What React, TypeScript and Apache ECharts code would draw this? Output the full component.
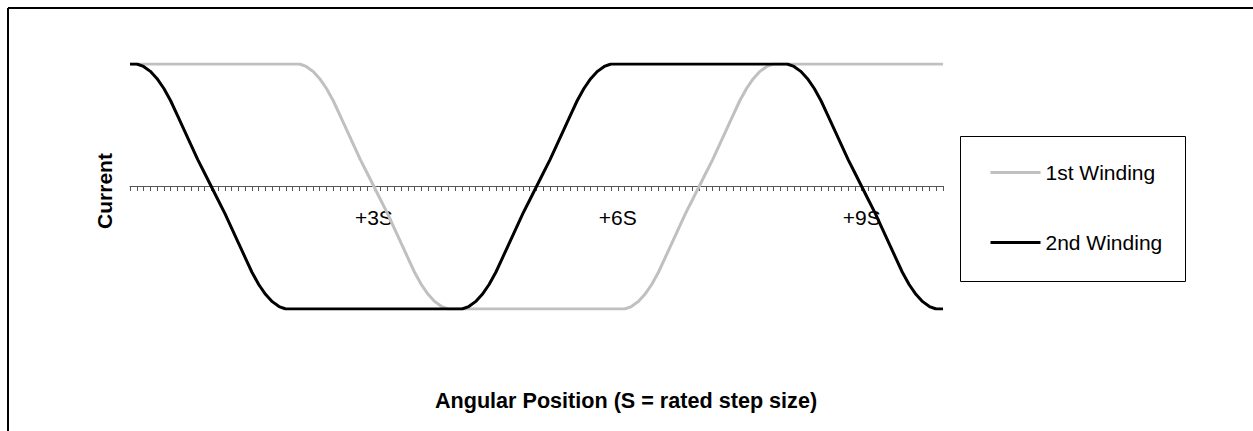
import React, { useEffect, useRef } from "react";
import * as echarts from "echarts";

// 121 positions along the angular axis, 12 per rated step S (0 .. 10S)
const positions: string[] = [
  "0","1","2","3","4","5","6","7","8","9","10","11",
  "12","13","14","15","16","17","18","19","20","21","22","23",
  "24","25","26","27","28","29","30","31","32","33","34","35",
  "36","37","38","39","40","41","42","43","44","45","46","47",
  "48","49","50","51","52","53","54","55","56","57","58","59",
  "60","61","62","63","64","65","66","67","68","69","70","71",
  "72","73","74","75","76","77","78","79","80","81","82","83",
  "84","85","86","87","88","89","90","91","92","93","94","95",
  "96","97","98","99","100","101","102","103","104","105","106","107",
  "108","109","110","111","112","113","114","115","116","117","118","119",
  "120",
];

// tick labels shown on the axis (position -> label)
const tickLabelPositions: string[] = ["36", "72", "108"];
const tickLabels: string[] = ["+3S", "+6S", "+9S"];

const seriesNames: string[] = ["1st Winding", "2nd Winding"];

// 1st Winding (grey)
const winding1: number[] = [
  1, 1, 1, 1, 1, 1, 1, 1, 1, 1, 1, 1,
  1, 1, 1, 1, 1, 1, 1, 1, 1, 1, 1, 1,
  1, 1, 0.98, 0.94, 0.88, 0.8, 0.7, 0.58, 0.46, 0.34, 0.22, 0.11,
  0, -0.11, -0.22, -0.34, -0.46, -0.58, -0.7, -0.8, -0.88, -0.94, -0.98, -1,
  -1, -1, -1, -1, -1, -1, -1, -1, -1, -1, -1, -1,
  -1, -1, -1, -1, -1, -1, -1, -1, -1, -1, -1, -1,
  -1, -1, -0.98, -0.94, -0.88, -0.8, -0.7, -0.58, -0.46, -0.34, -0.22, -0.11,
  0, 0.11, 0.22, 0.34, 0.46, 0.58, 0.7, 0.8, 0.88, 0.94, 0.98, 1,
  1, 1, 1, 1, 1, 1, 1, 1, 1, 1, 1, 1,
  1, 1, 1, 1, 1, 1, 1, 1, 1, 1, 1, 1,
  1,
];

// 2nd Winding (black)
const winding2: number[] = [
  1, 1, 0.98, 0.94, 0.88, 0.8, 0.7, 0.58, 0.46, 0.34, 0.22, 0.11,
  0, -0.11, -0.22, -0.34, -0.46, -0.58, -0.7, -0.8, -0.88, -0.94, -0.98, -1,
  -1, -1, -1, -1, -1, -1, -1, -1, -1, -1, -1, -1,
  -1, -1, -1, -1, -1, -1, -1, -1, -1, -1, -1, -1,
  -1, -1, -0.98, -0.94, -0.88, -0.8, -0.7, -0.58, -0.46, -0.34, -0.22, -0.11,
  0, 0.11, 0.22, 0.34, 0.46, 0.58, 0.7, 0.8, 0.88, 0.94, 0.98, 1,
  1, 1, 1, 1, 1, 1, 1, 1, 1, 1, 1, 1,
  1, 1, 1, 1, 1, 1, 1, 1, 1, 1, 1, 1,
  1, 1, 0.98, 0.94, 0.88, 0.8, 0.7, 0.58, 0.46, 0.34, 0.22, 0.11,
  0, -0.11, -0.22, -0.34, -0.46, -0.58, -0.7, -0.8, -0.88, -0.94, -0.98, -1,
  -1,
];

const FONT = "'Liberation Sans', Arial, Helvetica, sans-serif";

export default function App() {
  const ref = useRef<HTMLDivElement>(null);

  useEffect(() => {
    if (!ref.current) return;
    const chart = echarts.init(ref.current, undefined, { renderer: "svg" });
    chart.setOption({
      animation: false,
      backgroundColor: "#ffffff",
      textStyle: { fontFamily: FONT },
      grid: { left: 130, right: 310, top: 64, bottom: 122, containLabel: false },
      legend: {
        orient: "vertical",
        left: 989,
        top: 162,
        padding: 0,
        itemWidth: 50,
        itemHeight: 14,
        itemGap: 49,
        data: seriesNames,
        itemStyle: { opacity: 0 },
        lineStyle: { width: 3 },
        textStyle: { fontFamily: FONT, fontSize: 21, color: "#000" },
      },
      xAxis: {
        type: "category",
        data: positions,
        boundaryGap: false,
        position: "bottom",
        offset: -123,
        axisLine: { show: true, onZero: false, lineStyle: { color: "#555", width: 1 } },
        axisTick: { show: true, interval: 0, length: 5, lineStyle: { color: "#555", width: 1 } },
        axisLabel: {
          interval: (_i: number, v: string) => tickLabelPositions.indexOf(v) >= 0,
          formatter: (v: string) => {
            const k = tickLabelPositions.indexOf(v);
            return k >= 0 ? tickLabels[k] : "";
          },
          fontFamily: FONT,
          fontSize: 21,
          color: "#000",
          margin: 21,
        },
        splitLine: { show: false },
      },
      yAxis: {
        type: "value",
        min: -1,
        max: 1,
        show: false,
        splitLine: { show: false },
      },
      series: [
        {
          name: seriesNames[0],
          type: "line",
          data: winding1,
          symbol: "none",
          lineStyle: { color: "#c0c0c0", width: 3, join: "round" },
          itemStyle: { color: "#c0c0c0" },
        },
        {
          name: seriesNames[1],
          type: "line",
          data: winding2,
          symbol: "none",
          lineStyle: { color: "#000000", width: 3, join: "round" },
          itemStyle: { color: "#000000" },
        },
      ],
      graphic: [
        {
          type: "line",
          shape: { x1: 8, y1: 8, x2: 1253, y2: 8 },
          style: { stroke: "#000", lineWidth: 2 },
        },
        {
          type: "line",
          shape: { x1: 8, y1: 8, x2: 8, y2: 431 },
          style: { stroke: "#000", lineWidth: 2 },
        },
        {
          type: "rect",
          shape: { x: 960.5, y: 136.5, width: 225, height: 145 },
          style: { stroke: "#000", lineWidth: 1, fill: "none" },
          z: 10,
        },
        {
          type: "text",
          x: 104,
          y: 191,
          rotation: Math.PI / 2,
          style: {
            text: "Current",
            font: `bold 21px ${FONT}`,
            textAlign: "center",
            textVerticalAlign: "middle",
            align: "center",
            verticalAlign: "middle",
            fill: "#000",
          },
        },
        {
          type: "text",
          x: 626,
          y: 400,
          style: {
            text: "Angular Position (S = rated step size)",
            font: `bold 21.6px ${FONT}`,
            textAlign: "center",
            textVerticalAlign: "middle",
            align: "center",
            verticalAlign: "middle",
            fill: "#000",
          },
        },
      ],
    });
    return () => chart.dispose();
  }, []);

  return (
    <div
      ref={ref}
      style={{ position: "absolute", left: 0, top: 0, width: 1253, height: 431, background: "#fff" }}
    />
  );
}
